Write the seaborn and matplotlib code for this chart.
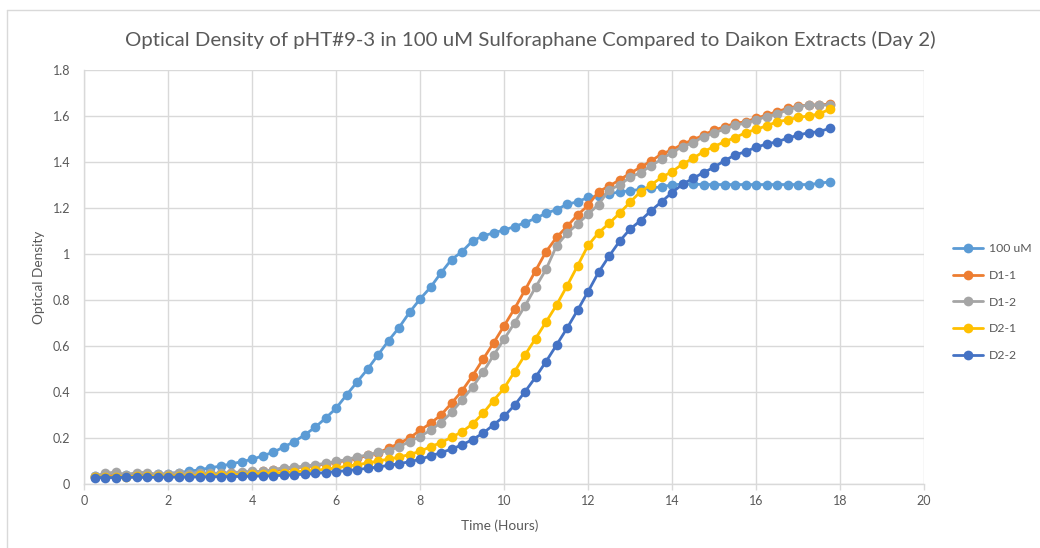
import numpy as np
import pandas as pd
import matplotlib
matplotlib.use("Agg")
import matplotlib.pyplot as plt
import seaborn as sns
from matplotlib.lines import Line2D

# ---------------- data ----------------
time_hours = [0.25 * (i + 1) for i in range(71)]

od_100uM = [0.035, 0.035, 0.037, 0.038, 0.040, 0.040, 0.042, 0.045, 0.050, 0.055,
            0.062, 0.070, 0.078, 0.087, 0.097, 0.107, 0.122, 0.138, 0.160, 0.184,
            0.213, 0.246, 0.286, 0.329, 0.387, 0.443, 0.499, 0.561, 0.623, 0.680,
            0.746, 0.804, 0.855, 0.918, 0.976, 1.010, 1.057, 1.078, 1.092, 1.104,
            1.119, 1.136, 1.155, 1.177, 1.193, 1.216, 1.227, 1.246, 1.252, 1.261,
            1.270, 1.275, 1.281, 1.286, 1.293, 1.300, 1.304, 1.304, 1.302, 1.302,
            1.302, 1.302, 1.302, 1.302, 1.302, 1.302, 1.302, 1.302, 1.302, 1.307,
            1.314]

od_D1_1 = [0.030, 0.035, 0.035, 0.033, 0.035, 0.035, 0.036, 0.037, 0.038, 0.040,
           0.041, 0.043, 0.045, 0.047, 0.049, 0.052, 0.055, 0.060, 0.065, 0.070,
           0.075, 0.080, 0.087, 0.095, 0.102, 0.112, 0.124, 0.136, 0.155, 0.177,
           0.200, 0.233, 0.264, 0.300, 0.351, 0.405, 0.470, 0.542, 0.613, 0.687,
           0.762, 0.843, 0.927, 1.010, 1.072, 1.120, 1.170, 1.211, 1.271, 1.295,
           1.322, 1.351, 1.377, 1.404, 1.435, 1.452, 1.478, 1.496, 1.517, 1.539,
           1.553, 1.568, 1.575, 1.590, 1.604, 1.619, 1.633, 1.643, 1.648, 1.648,
           1.652]

od_D1_2 = [0.035, 0.046, 0.052, 0.040, 0.050, 0.050, 0.042, 0.045, 0.050, 0.045,
           0.050, 0.046, 0.048, 0.050, 0.052, 0.055, 0.055, 0.062, 0.071, 0.072,
           0.078, 0.083, 0.090, 0.098, 0.106, 0.118, 0.126, 0.137, 0.145, 0.162,
           0.184, 0.206, 0.234, 0.267, 0.311, 0.365, 0.421, 0.486, 0.559, 0.629,
           0.700, 0.774, 0.855, 0.933, 1.035, 1.090, 1.130, 1.173, 1.215, 1.278,
           1.300, 1.333, 1.354, 1.383, 1.412, 1.441, 1.467, 1.484, 1.510, 1.527,
           1.542, 1.561, 1.568, 1.583, 1.597, 1.609, 1.626, 1.640, 1.648, 1.648,
           1.648]

od_D2_1 = [0.030, 0.030, 0.032, 0.032, 0.033, 0.033, 0.034, 0.035, 0.035, 0.036,
           0.037, 0.038, 0.039, 0.040, 0.041, 0.043, 0.045, 0.048, 0.050, 0.053,
           0.056, 0.060, 0.064, 0.070, 0.077, 0.084, 0.091, 0.100, 0.108, 0.117,
           0.128, 0.142, 0.162, 0.180, 0.203, 0.227, 0.261, 0.307, 0.363, 0.416,
           0.488, 0.561, 0.632, 0.704, 0.778, 0.861, 0.948, 1.037, 1.092, 1.133,
           1.177, 1.225, 1.271, 1.300, 1.333, 1.358, 1.391, 1.416, 1.445, 1.467,
           1.488, 1.506, 1.527, 1.542, 1.557, 1.575, 1.583, 1.594, 1.600, 1.609,
           1.629]

od_D2_2 = [0.028, 0.028, 0.028, 0.029, 0.029, 0.029, 0.029, 0.030, 0.030, 0.030,
           0.031, 0.031, 0.032, 0.032, 0.033, 0.034, 0.035, 0.036, 0.038, 0.040,
           0.043, 0.046, 0.050, 0.054, 0.058, 0.063, 0.068, 0.074, 0.081, 0.088,
           0.097, 0.107, 0.122, 0.136, 0.152, 0.170, 0.193, 0.221, 0.257, 0.294,
           0.342, 0.401, 0.464, 0.532, 0.604, 0.677, 0.755, 0.836, 0.920, 0.990,
           1.055, 1.108, 1.145, 1.188, 1.227, 1.267, 1.303, 1.329, 1.354, 1.377,
           1.406, 1.430, 1.445, 1.464, 1.478, 1.488, 1.503, 1.517, 1.527, 1.532,
           1.546]

series_names = ["100 uM", "D1-1", "D1-2", "D2-1", "D2-2"]
series_values = [od_100uM, od_D1_1, od_D1_2, od_D2_1, od_D2_2]
series_colors = ["#5B9BD5", "#ED7D31", "#A5A5A5", "#FFC000", "#4472C4"]

x_ticks = [0, 2, 4, 6, 8, 10, 12, 14, 16, 18, 20]
y_ticks = [0, 0.2, 0.4, 0.6, 0.8, 1.0, 1.2, 1.4, 1.6, 1.8]

title_text = "Optical Density of pHT#9-3 in 100 uM Sulforaphane Compared to Daikon Extracts (Day 2)"
x_label = "Time (Hours)"
y_label = "Optical Density"

# ---------------- build long table ----------------
frames = []
for name, vals in zip(series_names, series_values):
    frames.append(pd.DataFrame({"Time": time_hours, "OD": vals, "Series": name}))
df = pd.concat(frames, ignore_index=True)

# ---------------- style ----------------
sns.set_style("white")
plt.rcParams["font.family"] = ["Lato", "DejaVu Sans"]
text_gray = "#595959"
grid_gray = "#D9D9D9"

fig = plt.figure(figsize=(10.4, 5.48), dpi=100)
ax = fig.add_axes([84 / 1040, 1 - 484 / 548, 840 / 1040, 414 / 548])

sns.lineplot(data=df, x="Time", y="OD", hue="Series", hue_order=series_names,
             palette=series_colors, marker="o", markersize=7, markeredgewidth=0,
             linewidth=2, ax=ax, legend=True, zorder=3)

ax.set_xlim(0, 20)
ax.set_ylim(0, 1.8)
ax.set_xticks(x_ticks)
ax.set_xticklabels([f"{v:g}" for v in x_ticks])
ax.set_yticks(y_ticks)
ax.set_yticklabels([f"{v:g}" for v in y_ticks])
ax.grid(True, color=grid_gray, linewidth=1)
ax.set_axisbelow(True)

for side in ["top", "right"]:
    ax.spines[side].set_visible(False)
for side in ["left", "bottom"]:
    ax.spines[side].set_color(grid_gray)
    ax.spines[side].set_linewidth(1)

ax.tick_params(axis="x", length=4, width=1, color=grid_gray, direction="out",
               pad=4, labelsize=9, labelcolor=text_gray, bottom=True)
ax.tick_params(axis="y", length=0, pad=10, labelsize=9, labelcolor=text_gray, left=True)

ax.set_xlabel(x_label, fontsize=9.8, color=text_gray)
ax.set_ylabel(y_label, fontsize=9.8, color=text_gray)
ax.xaxis.set_label_coords(0.495, -0.085)
ax.yaxis.set_label_coords(-0.046, 0.5)

fig.text(530 / 1040, 1 - 40 / 548, title_text, ha="center", va="center",
         fontsize=14.7, color=text_gray)

# legend
handles, labels = ax.get_legend_handles_labels()
ax.get_legend().remove()
fig.legend(handles, labels, loc="center left", bbox_to_anchor=(0.912, 1 - 302 / 548),
           frameon=False, fontsize=8.8, labelcolor=text_gray, handlelength=2.4,
           labelspacing=1.28, handletextpad=0.5, borderaxespad=0)

# chart border (Excel chart area outline)
fig.add_artist(Line2D([7 / 1040, 7 / 1040], [0, 1 - 10 / 548], transform=fig.transFigure,
                      color=grid_gray, linewidth=1))
fig.add_artist(Line2D([7 / 1040, 1], [1 - 10 / 548, 1 - 10 / 548], transform=fig.transFigure,
                      color=grid_gray, linewidth=1))

fig.savefig("out.png", dpi=100, facecolor="white")
